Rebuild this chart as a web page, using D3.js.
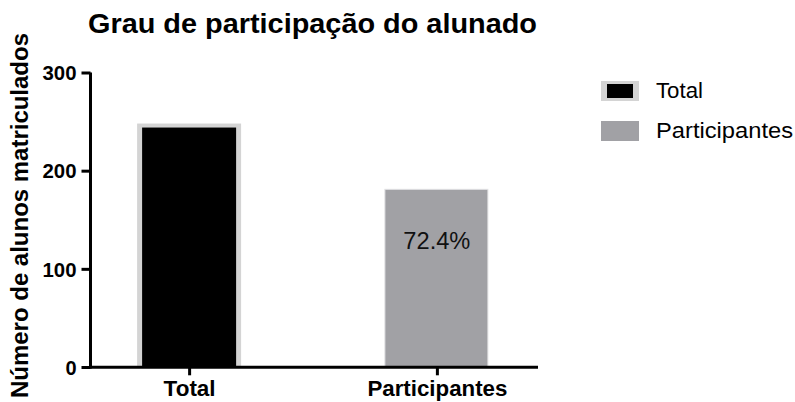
<!DOCTYPE html>
<html>
<head>
<meta charset="utf-8">
<script src="https://cdn.jsdelivr.net/npm/d3@7"></script>
<style>
  html, body { margin: 0; padding: 0; background: #fff; }
  svg { display: block; font-family: "Liberation Sans", Arial, sans-serif; }
</style>
</head>
<body>
<svg id="chart" width="795" height="402"></svg>
<script>
const categories = ["Total", "Participantes"];
const values = [248, 181];
const valueLabels = ["", "72.4%"];
const yTicks = [0, 100, 200, 300];
const legendLabels = ["Total", "Participantes"];
const titleText = "Grau de participação do alunado";
const yTitle = "Número de alunos matriculados";

const svg = d3.select("#chart");

const x = d3.scalePoint().domain(categories).range([90, 536]).padding(0.4);
const y = d3.scaleLinear().domain([0, 300]).range([367, 72.5]);
const barW = 104;

// bars
const g = svg.append("g");
categories.forEach((c, i) => {
  const cx = x(c);
  if (i === 0) {
    g.append("rect").attr("x", cx - barW / 2).attr("y", y(values[i]))
      .attr("width", barW).attr("height", y(0) - y(values[i]))
      .attr("fill", "#d4d4d4");
    g.append("rect").attr("x", cx - barW / 2 + 5).attr("y", y(values[i]) + 4)
      .attr("width", barW - 10).attr("height", y(0) - y(values[i]) - 4)
      .attr("fill", "#000");
  } else {
    g.append("rect").attr("x", cx - barW / 2).attr("y", y(values[i]))
      .attr("width", barW - 1).attr("height", y(0) - y(values[i]))
      .attr("fill", "#a1a1a5").attr("stroke", "#e2e2e4").attr("stroke-width", 1);
  }
  if (valueLabels[i]) {
    g.append("text").attr("x", cx).attr("y", 249)
      .attr("text-anchor", "middle").attr("font-size", 23).attr("fill", "#111")
      .attr("textLength", 67).attr("lengthAdjust", "spacingAndGlyphs")
      .text(valueLabels[i]);
  }
});

// y axis
const yAxis = d3.axisLeft(y).tickValues(yTicks).tickSize(9).tickPadding(5).tickSizeOuter(0);
const ya = svg.append("g").attr("transform", "translate(90.5,0)").call(yAxis);
ya.select(".domain").attr("stroke", "#000").attr("stroke-width", 3).attr("d", `M0,${y(300)}V${y(0)+1.5}`);
ya.selectAll(".tick line").attr("stroke", "#000").attr("stroke-width", 3);
ya.selectAll(".tick text").attr("font-size", 20).attr("font-weight", "bold").attr("fill", "#000")
  .attr("font-family", "'Liberation Sans', Arial, sans-serif").attr("dy", "0.36em")
  .each(function(d) { if (String(d).length === 3) d3.select(this).attr("textLength", 34).attr("lengthAdjust", "spacingAndGlyphs"); });

// x axis
const xAxis = d3.axisBottom(x).tickSize(8).tickPadding(5).tickSizeOuter(0);
const xa = svg.append("g").attr("transform", "translate(0,367.3)").call(xAxis);
xa.select(".domain").attr("stroke", "#000").attr("stroke-width", 3).attr("d", "M89,0H538");
xa.selectAll(".tick line").attr("stroke", "#000").attr("stroke-width", 3);
const xLabelLen = { "Total": 52, "Participantes": 140 };
xa.selectAll(".tick text").attr("font-size", 22).attr("font-weight", "bold").attr("fill", "#000")
  .attr("font-family", "'Liberation Sans', Arial, sans-serif").attr("dy", "0.71em")
  .attr("textLength", d => xLabelLen[d]).attr("lengthAdjust", "spacingAndGlyphs");

// title
svg.append("text").attr("x", 88).attr("y", 33).attr("font-size", 28).attr("font-weight", "bold")
  .attr("fill", "#000").attr("textLength", 449).attr("lengthAdjust", "spacingAndGlyphs").text(titleText);

// y title
svg.append("text").attr("transform", "translate(28,215.5) rotate(-90)")
  .attr("text-anchor", "middle").attr("font-size", 23).attr("font-weight", "bold")
  .attr("fill", "#000").attr("textLength", 365).attr("lengthAdjust", "spacingAndGlyphs").text(yTitle);

// legend
const lg = svg.append("g");
lg.append("rect").attr("x", 601).attr("y", 81).attr("width", 38).attr("height", 20).attr("fill", "#d4d4d4");
lg.append("rect").attr("x", 607).attr("y", 84).attr("width", 26).attr("height", 14).attr("fill", "#000");
lg.append("rect").attr("x", 601).attr("y", 121).attr("width", 38).attr("height", 20).attr("fill", "#a1a1a5");
const legLen = [47, 137];
legendLabels.forEach((l, i) => {
  lg.append("text").attr("x", 656).attr("y", 98 + i * 40).attr("font-size", 22).attr("fill", "#000")
    .attr("textLength", legLen[i]).attr("lengthAdjust", "spacingAndGlyphs").text(l);
});
</script>
</body>
</html>
